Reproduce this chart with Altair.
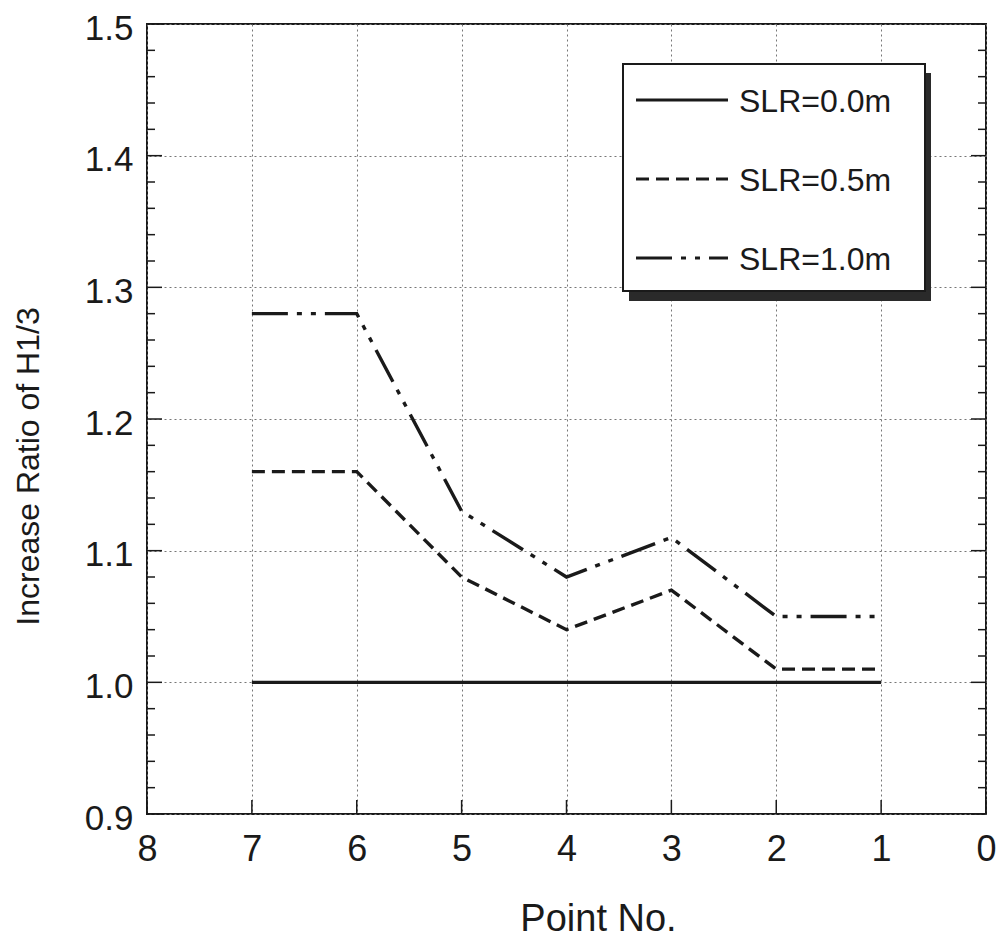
import altair as alt
import pandas as pd

# ---- data ----
points = [7, 6, 5, 4, 3, 2, 1]
series_names = ["SLR=0.0m", "SLR=0.5m", "SLR=1.0m"]
slr_00 = [1.00, 1.00, 1.00, 1.00, 1.00, 1.00, 1.00]
slr_05 = [1.16, 1.16, 1.08, 1.04, 1.07, 1.01, 1.01]
slr_10 = [1.28, 1.28, 1.13, 1.08, 1.11, 1.05, 1.05]

x_ticks = [8, 7, 6, 5, 4, 3, 2, 1, 0]
y_major = [0.9, 1.0, 1.1, 1.2, 1.3, 1.4, 1.5]
y_minor = [0.92, 0.94, 0.96, 0.98, 1.02, 1.04, 1.06, 1.08, 1.12, 1.14, 1.16, 1.18,
           1.22, 1.24, 1.26, 1.28, 1.32, 1.34, 1.36, 1.38, 1.42, 1.44, 1.46, 1.48]

rows = []
for name, vals in zip(series_names, [slr_00, slr_05, slr_10]):
    for p, v in zip(points, vals):
        rows.append({"x": p, "y": v, "series": name})
df = pd.DataFrame(rows)

W, H = 839, 790
FONT = "Liberation Sans"
INK = "#1a1a1a"

dash_range = [[1, 0], [13, 7], [36, 9, 5, 9, 5, 9]]

xscale = alt.Scale(domain=[0, 8], reverse=True, nice=False)
yscale = alt.Scale(domain=[0.9, 1.5], nice=False, zero=False)

x_axis = alt.Axis(values=x_ticks, title="Point No.", ticks=False, domain=False,
                  grid=True, gridDash=[2, 3], gridColor="#777", gridWidth=1,
                  labelFontSize=36, labelFont=FONT, labelColor=INK, labelPadding=18,
                  labelFlush=False,
                  titleFontSize=38, titleFont=FONT, titleFontWeight="normal",
                  titleColor=INK, titleX=451, titleY=86, titleBaseline="top",
                  titleAlign="center")
y_axis = alt.Axis(values=y_major, format=".1f", title="Increase Ratio of H1/3",
                  ticks=False, domain=False,
                  grid=True, gridDash=[2, 3], gridColor="#777", gridWidth=1,
                  labelFontSize=35, labelFont=FONT, labelColor=INK, labelPadding=14,
                  labelFlush=False, labelBaseline="middle", labelOffset=4,
                  titleFontSize=32, titleFont=FONT,
                  titleFontWeight="normal", titleColor=INK,
                  titleAngle=270, titleX=-109, titleY=442, titleAlign="center",
                  titleBaseline="alphabetic")

lines = alt.Chart(df).mark_line(strokeWidth=3.4, color=INK, strokeCap="butt").encode(
    x=alt.X("x:Q", scale=xscale, axis=x_axis),
    y=alt.Y("y:Q", scale=yscale, axis=y_axis),
    strokeDash=alt.StrokeDash("series:N", scale=alt.Scale(domain=series_names, range=dash_range),
                              legend=None),
    detail="series:N",
)

# inward ticks
ymaj_df = pd.DataFrame({"y": y_major})
ymin_df = pd.DataFrame({"y": y_minor})
xt_df = pd.DataFrame({"x": x_ticks})

def ytick(data, size, left=True):
    return alt.Chart(data).mark_tick(orient="horizontal", size=size, thickness=1.5, color=INK,
                                     opacity=1, xOffset=(size / 2 if left else -size / 2)).encode(
        y=alt.Y("y:Q", scale=yscale, axis=y_axis),
        x=alt.value(0 if left else W),
    )

xtick = alt.Chart(xt_df).mark_tick(orient="vertical", size=14, thickness=1.5, color=INK,
                                   opacity=1, yOffset=-7).encode(
    x=alt.X("x:Q", scale=xscale, axis=x_axis),
    y=alt.value(H),
)

# legend (drawn as a framed box with a drop shadow)
LX0, LY0, LX1, LY1 = 476, 40, 778, 267
shadow = alt.Chart(pd.DataFrame({"k": [0]})).mark_rect(color="#2a2a2a").encode(
    x=alt.value(LX0 + 6), x2=alt.value(LX1 + 6), y=alt.value(LY0 + 9), y2=alt.value(LY1 + 10))
box = alt.Chart(pd.DataFrame({"k": [0]})).mark_rect(fill="white", stroke=INK, strokeWidth=2).encode(
    x=alt.value(LX0), x2=alt.value(LX1), y=alt.value(LY0), y2=alt.value(LY1))

legend_layers = []
for i, name in enumerate(series_names):
    ry = 76 + i * 79
    ldf = pd.DataFrame({"series": [name]})
    legend_layers.append(
        alt.Chart(ldf).mark_rule(strokeWidth=3, color=INK, strokeDash=dash_range[i]).encode(
            x=alt.value(489), x2=alt.value(581), y=alt.value(ry)))
    legend_layers.append(
        alt.Chart(ldf).mark_text(align="left", baseline="middle", fontSize=32, font=FONT,
                                 color=INK).encode(
            x=alt.value(592), y=alt.value(ry + 2), text="series:N"))

chart = alt.layer(
    lines,
    ytick(ymaj_df, 15, True), ytick(ymin_df, 8, True),
    ytick(ymaj_df, 15, False), ytick(ymin_df, 8, False),
    xtick,
    shadow, box, *legend_layers,
).properties(
    width=W, height=H,
    background="white",
    autosize=alt.AutoSizeParams(type="none"),
    padding={"left": 139, "top": 16, "right": 10, "bottom": 124},
).configure_view(stroke=INK, strokeWidth=2)

chart.save("out.html", embed_options={"renderer": "svg", "actions": False})
